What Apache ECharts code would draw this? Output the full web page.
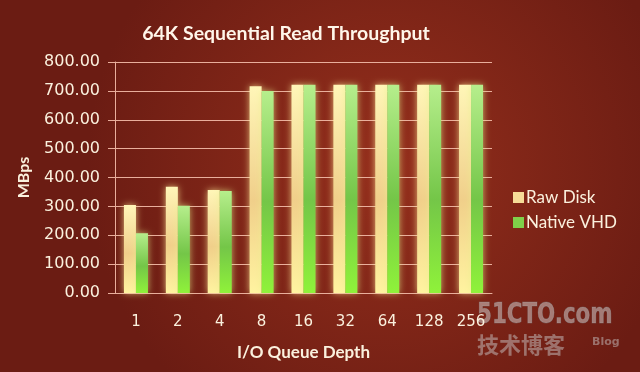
<!DOCTYPE html>
<html><head><meta charset="utf-8">
<script src="https://cdn.jsdelivr.net/npm/echarts@6/dist/echarts.min.js"></script>
<style>html,body{margin:0;padding:0;background:#7a2417}#c{width:640px;height:372px}</style>
</head><body><div id="c"></div>
<script>
const categories = ['1','2','4','8','16','32','64','128','256'];
const rawDisk = [305, 368, 357, 716, 721, 721, 721, 721, 721];
const nativeVHD = [207, 302, 353, 700, 721, 721, 721, 721, 721];
const seriesNames = ['Raw Disk', 'Native VHD'];

const chart = echarts.init(document.getElementById('c'), null, {renderer:'canvas'});
const txt = '#fbf1de';
const lineCol = '#e9ae9c';
function grad(stops){return new echarts.graphic.LinearGradient(0,0,0,1,stops.map((c,i)=>({offset:c[0],color:c[1]})));}
const rawGrad = grad([[0,'#fff6b8'],[0.55,'#f0cf8a'],[1,'#fff3a0']]);
const vhdGrad = grad([[0,'#b6ee8c'],[0.55,'#74c648'],[1,'#8ff23a']]);
chart.setOption({
  animation:false,
  backgroundColor: new echarts.graphic.RadialGradient(0.6,0.45,0.8,[{offset:0,color:'#952f1c'},{offset:1,color:'#6b1c13'}]),
  title:{text:'64K Sequential Read Throughput',left:281,top:19,textAlign:'center',
    textStyle:{color:'#fff6ea',fontFamily:'Lato',fontWeight:'bold',fontSize:19.5}},
  legend:{data:[{name:seriesNames[0],itemStyle:{color:'#f6dc98'}},{name:seriesNames[1],itemStyle:{color:'#7fd04a'}}],
    orient:'vertical',left:508,top:184,itemWidth:11,itemHeight:11,itemGap:8,icon:'rect',
    textStyle:{color:txt,fontFamily:'Lato',fontSize:17,padding:[0,0,0,-3]}},
  grid:{left:115,right:148,top:62,bottom:79},
  xAxis:{type:'category',data:categories,name:'I/O Queue Depth',nameLocation:'middle',nameGap:51,
    nameTextStyle:{color:txt,fontFamily:'Lato',fontWeight:'bold',fontSize:17},
    axisLine:{lineStyle:{color:lineCol,width:1}},axisTick:{show:false},
    axisLabel:{color:txt,fontFamily:'DejaVu Sans',fontSize:15,margin:22}},
  yAxis:{type:'value',min:0,max:800,interval:100,name:'MBps',nameLocation:'middle',nameGap:83,
    nameTextStyle:{color:txt,fontFamily:'Lato',fontWeight:'bold',fontSize:16},
    axisLine:{show:true,lineStyle:{color:lineCol}},axisTick:{show:true,length:7,lineStyle:{color:lineCol}},
    splitLine:{lineStyle:{color:lineCol,width:1}},
    axisLabel:{color:txt,fontFamily:'DejaVu Sans',fontSize:16,margin:15,formatter:v=>v.toFixed(2)}},
  series:[
    {name:seriesNames[0],type:'bar',data:rawDisk,barWidth:12,barGap:'0%',
     itemStyle:{color:rawGrad,shadowBlur:7,shadowColor:'rgba(255,235,150,0.75)'}},
    {name:seriesNames[1],type:'bar',data:nativeVHD,barWidth:12,
     itemStyle:{color:vhdGrad,shadowBlur:7,shadowColor:'rgba(230,240,140,0.7)'}}
  ],
  graphic:[
    {type:'text',x:477,y:302,scaleX:0.85,style:{text:'51CTO.com',fill:'rgba(205,200,200,0.55)',stroke:'rgba(120,110,110,0.5)',lineWidth:1,font:'bold 28px "DejaVu Sans Condensed"'}},
    {type:'text',x:477,y:334,style:{text:'技术博客',fill:'rgba(200,195,195,0.5)',font:'bold 22px "Noto Sans CJK SC"'}},
    {type:'text',x:592,y:337,style:{text:'Blog',fill:'rgba(200,195,195,0.5)',font:'bold 11px "DejaVu Sans"'}}
  ]
});
</script></body></html>
